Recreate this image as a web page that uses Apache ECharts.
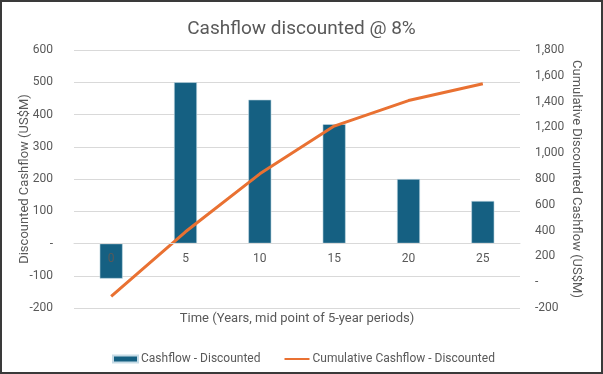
<!DOCTYPE html>
<html><head><meta charset="utf-8">
<script src="https://cdn.jsdelivr.net/npm/echarts@6/dist/echarts.min.js"></script>
<style>html,body{margin:0;padding:0;background:#fff}#c{width:603px;height:374px}</style>
</head><body><div id="c"></div>
<script>
const categories = ['0', '5', '10', '15', '20', '25'];
const cashflowDiscounted = [-109, 500, 446, 370, 200, 132];
const cumulativeDiscounted = [-109, 391, 840, 1210, 1408, 1538];
const leftTicks = {min: -200, max: 600, interval: 100};
const rightTicks = {min: -200, max: 1800, interval: 200};

const FONT = 'Roboto, "Noto Sans", sans-serif';
const GREY = '#595959';
const chart = echarts.init(document.getElementById('c'), null, {renderer: 'canvas'});
chart.setOption({
  animation: false,
  textStyle: {fontFamily: FONT},
  title: {text: 'Cashflow discounted @ 8%', left: 'center', top: 15,
    textStyle: {fontFamily: FONT, fontSize: 19, fontWeight: 'normal', color: GREY}},
  grid: {left: 74, right: 83, top: 50, bottom: 66, containLabel: false},
  legend: {left: 107, top: 348, itemWidth: 25, itemHeight: 7, itemGap: 23,
    textStyle: {fontFamily: FONT, fontSize: 12, color: GREY, padding: [0, 0, 0, -2]},
    data: [{name: 'Cashflow - Discounted', icon: 'rect'},
           {name: 'Cumulative Cashflow - Discounted', itemStyle: {opacity: 0}}]},
  xAxis: {type: 'category', data: categories, z: 5, offset: -65,
    axisLine: {onZero: false, lineStyle: {color: '#d9d9d9'}},
    axisTick: {show: false},
    axisLabel: {color: GREY, fontSize: 12, margin: 10, fontFamily: FONT}},
  yAxis: [
    {type: 'value', min: leftTicks.min, max: leftTicks.max, interval: leftTicks.interval,
      axisLine: {show: false}, axisTick: {show: false},
      splitLine: {lineStyle: {color: '#d9d9d9'}},
      axisLabel: {color: GREY, fontSize: 12, margin: 21, fontFamily: FONT,
        formatter: v => v === 0 ? '-' : String(v)}},
    {type: 'value', min: rightTicks.min, max: rightTicks.max, interval: rightTicks.interval,
      axisLine: {show: false}, axisTick: {show: false}, splitLine: {show: false},
      axisLabel: {color: GREY, fontSize: 12, margin: 15, fontFamily: FONT,
        formatter: v => v === 0 ? '-' : v.toLocaleString('en-US')}}
  ],
  series: [
    {name: 'Cashflow - Discounted', type: 'bar', data: cashflowDiscounted, barWidth: 23,
      itemStyle: {color: '#156082', borderColor: '#c6dbe6', borderWidth: 0.6}},
    {name: 'Cumulative Cashflow - Discounted', type: 'line', yAxisIndex: 1,
      data: cumulativeDiscounted, symbol: 'none',
      lineStyle: {color: '#E97132', width: 3}, itemStyle: {color: '#E97132'}}
  ],
  graphic: [
    {type: 'text', x: 25, y: 179, rotation: Math.PI / 2,
      style: {text: 'Discounted Cashflow (US$M)', fontFamily: FONT, fontSize: 13, fill: GREY,
        align: 'center', verticalAlign: 'middle'}},
    {type: 'text', x: 576, y: 179, rotation: -Math.PI / 2,
      style: {text: 'Cumulative Discounted Cashflow (US$M)', fontFamily: FONT, fontSize: 13, fill: GREY,
        align: 'center', verticalAlign: 'middle'}},
    {type: 'text', x: 297, y: 319,
      style: {text: 'Time (Years, mid point of 5-year periods)', fontFamily: FONT, fontSize: 13, fill: GREY,
        align: 'center', verticalAlign: 'middle'}},
    {type: 'rect', shape: {x: 1, y: 1, width: 601, height: 372}, silent: true, z: 100,
      style: {fill: 'none', stroke: '#3a3a3a', lineWidth: 2}}
  ]
});
</script></body></html>
